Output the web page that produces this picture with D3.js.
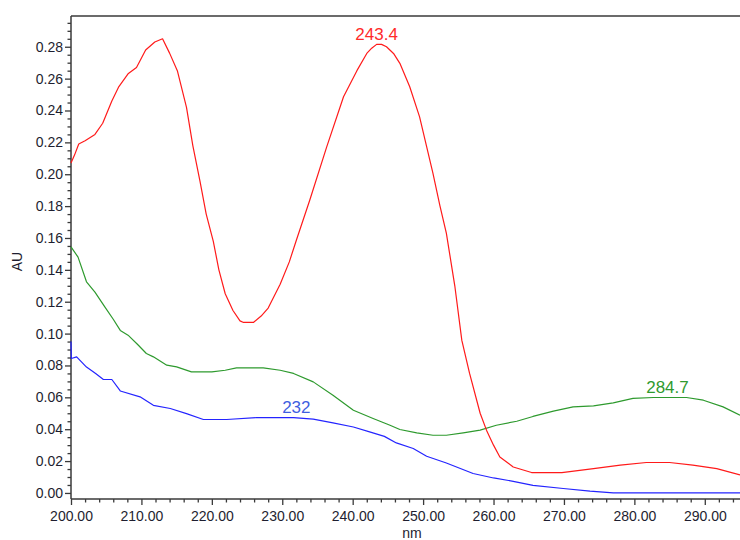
<!DOCTYPE html>
<html>
<head>
<meta charset="utf-8">
<script src="https://cdn.jsdelivr.net/npm/d3@7"></script>
<style>
  html, body { margin: 0; padding: 0; background: #fff; }
  svg { display: block; }
  text { font-family: "Liberation Sans", Arial, sans-serif; }
</style>
</head>
<body>
<svg id="chart" width="740" height="540"></svg>
<script>
// ---- data (wavelength nm, absorbance AU) ----
const redNm = [200.0,200.5,201.1,202.0,203.4,204.5,205.8,206.8,208.1,209.3,210.6,211.9,213.0,214.0,215.1,216.4,217.3,218.3,219.2,220.2,221.0,221.9,223.0,224.0,224.5,225.9,227.0,228.0,229.7,231.0,232.0,233.9,236.3,238.7,240.6,242.0,242.7,243.4,244.1,244.8,245.8,246.7,248.1,249.5,251.4,252.4,253.3,254.5,255.5,256.6,258.1,259.0,260.0,260.9,262.8,265.4,269.7,274.2,278.0,281.7,285.0,288.3,291.7,295.0];
const redAU = [0.207,0.212,0.219,0.221,0.225,0.232,0.246,0.255,0.263,0.267,0.278,0.283,0.285,0.276,0.265,0.242,0.218,0.196,0.175,0.158,0.140,0.125,0.1145,0.108,0.107,0.107,0.111,0.116,0.131,0.145,0.1586,0.1837,0.217,0.2486,0.265,0.2758,0.2791,0.2815,0.2815,0.280,0.2758,0.2696,0.2549,0.236,0.2005,0.180,0.163,0.130,0.0957,0.075,0.050,0.0394,0.030,0.0226,0.0163,0.0128,0.0128,0.0153,0.0174,0.0191,0.0191,0.0174,0.0153,0.0113];

const greenNm = [200.0,201.0,202.2,203.4,204.8,206.0,207.0,208.1,209.5,210.7,211.7,213.6,215.0,217.1,220.0,221.9,223.5,227.3,229.7,231.6,234.4,237.2,240.1,242.9,245.3,246.7,249.1,251.4,253.3,255.7,258.1,260.4,263.3,265.6,268.5,271.3,274.2,277.0,279.8,282.7,287.4,289.8,292.6,295.0];
const greenAU = [0.1544,0.148,0.1325,0.126,0.1168,0.109,0.102,0.099,0.093,0.0875,0.0854,0.0802,0.0791,0.076,0.076,0.077,0.0785,0.0785,0.077,0.075,0.0697,0.0613,0.0519,0.0467,0.0425,0.0398,0.0377,0.0362,0.0362,0.0377,0.0394,0.0425,0.045,0.048,0.0513,0.054,0.0546,0.0565,0.0593,0.0599,0.0599,0.0582,0.054,0.0488];

const blueNm = [200.0,200.05,200.8,202.2,203.5,204.6,205.8,207.0,209.8,211.7,214.1,216.4,218.8,222.1,226.4,231.6,234.4,237.2,240.1,242.4,244.5,246.2,248.6,250.5,253.3,257.1,260.0,262.8,265.6,269.9,273.7,277.0,295.0];
const blueAU = [0.095,0.0844,0.0854,0.079,0.075,0.0712,0.0712,0.064,0.0603,0.055,0.053,0.0498,0.0461,0.0461,0.0473,0.0473,0.0463,0.044,0.0414,0.0383,0.0355,0.0314,0.0279,0.023,0.0188,0.0122,0.0094,0.0073,0.0048,0.0028,0.0011,0.0,0.0];

// peak annotations
const peakLabels = ["243.4", "284.7", "232"];
const peakNm = [243.4, 284.7, 232];
const peakAU = [0.2815, 0.0599, 0.0473];
const peakColors = ["#ff2a2a", "#2f9a2f", "#3f5fdf"];

// axis ticks
const xMajorTicks = [200, 210, 220, 230, 240, 250, 260, 270, 280, 290];
const yMajorTicks = [0.00,0.02,0.04,0.06,0.08,0.10,0.12,0.14,0.16,0.18,0.20,0.22,0.24,0.26,0.28];
const xLabel = "nm";
const yLabel = "AU";

// ---- drawing ----
const svg = d3.select("#chart");
const mLeft = 71, mRight = 740, mTop = 16, mBottom = 499;

const x = d3.scaleLinear().domain([200, 295]).range([mLeft, mRight]);
const y = d3.scaleLinear().domain([-0.0038, 0.2993]).range([mBottom, mTop]);

const axisColor = "#3a3a3a";
const textColor = "#1e1e30";

// minor ticks
const xMinor = d3.range(200, 295.01, 2).filter(v => xMajorTicks.indexOf(v) < 0);
const yMinor = d3.range(0, 0.2951, 0.005).filter(v => !yMajorTicks.some(t => Math.abs(t - v) < 1e-6));

const gx = svg.append("g").attr("transform", `translate(0,${mBottom})`);
gx.call(d3.axisBottom(x).tickValues(xMinor).tickSize(3.5).tickFormat(""))
  .call(g => g.select(".domain").remove());
const gx2 = svg.append("g").attr("transform", `translate(0,${mBottom})`);
gx2.call(d3.axisBottom(x).tickValues(xMajorTicks).tickSize(6).tickPadding(6).tickFormat(d3.format(".2f")))
  .call(g => g.select(".domain").remove());

const gy = svg.append("g").attr("transform", `translate(${mLeft},0)`);
gy.call(d3.axisLeft(y).tickValues(yMinor).tickSize(3.5).tickFormat(""))
  .call(g => g.select(".domain").remove());
const gy2 = svg.append("g").attr("transform", `translate(${mLeft},0)`);
gy2.call(d3.axisLeft(y).tickValues(yMajorTicks).tickSize(6).tickPadding(2).tickFormat(d3.format(".2f")))
  .call(g => g.select(".domain").remove());

svg.selectAll(".tick line").attr("stroke", axisColor).attr("stroke-width", 1.3);
svg.selectAll(".tick text").attr("fill", textColor).style("font-size", "14px")
   .style("font-family", "'Liberation Sans', Arial, sans-serif");

// frame lines
svg.append("line").attr("x1", mLeft).attr("x2", mRight).attr("y1", mTop).attr("y2", mTop)
  .attr("stroke", axisColor).attr("stroke-width", 1.5);
svg.append("line").attr("x1", mLeft).attr("x2", mLeft).attr("y1", mTop).attr("y2", mBottom)
  .attr("stroke", axisColor).attr("stroke-width", 1.5);
svg.append("line").attr("x1", mLeft).attr("x2", mRight).attr("y1", mBottom).attr("y2", mBottom)
  .attr("stroke", axisColor).attr("stroke-width", 1.5);

// axis labels
svg.append("text").attr("x", 412).attr("y", 538).attr("text-anchor", "middle")
  .attr("fill", textColor).style("font-size", "14px").text(xLabel);
svg.append("text").attr("transform", `translate(22,${(mTop + mBottom) / 2 + 4}) rotate(-90)`)
  .attr("text-anchor", "middle").attr("fill", textColor).style("font-size", "14px").text(yLabel);

// series
const line = d3.line().x(d => x(d[0])).y(d => y(d[1]));
const series = [
  { nm: greenNm, au: greenAU, color: "#2e9a2e" },
  { nm: blueNm, au: blueAU, color: "#2424ff" },
  { nm: redNm, au: redAU, color: "#ff1a1a" }
];
const plot = svg.append("g");
series.forEach(s => {
  plot.append("path")
    .datum(d3.zip(s.nm, s.au))
    .attr("d", line)
    .attr("fill", "none")
    .attr("stroke", s.color)
    .attr("stroke-width", 1.2)
    .attr("stroke-linejoin", "round");
});

// peak labels
peakLabels.forEach((lab, i) => {
  svg.append("text")
    .attr("x", x(peakNm[i]))
    .attr("y", y(peakAU[i]) - 10)
    .attr("text-anchor", "middle")
    .attr("dominant-baseline", "central")
    .attr("fill", peakColors[i])
    .style("font-size", "17px")
    .text(lab);
});
</script>
</body>
</html>
